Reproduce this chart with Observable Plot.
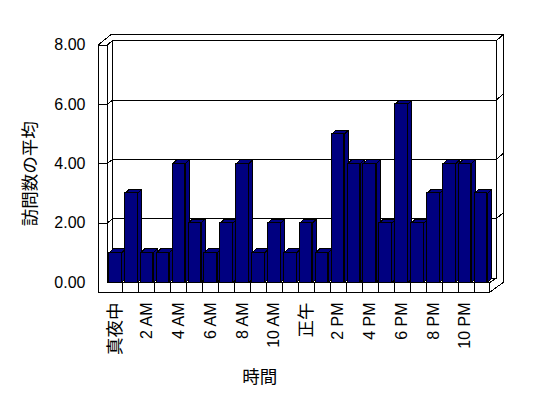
<!DOCTYPE html>
<html>
<head>
<meta charset="utf-8">
<script src="https://cdn.jsdelivr.net/npm/d3@7"></script>
<script src="https://cdn.jsdelivr.net/npm/@observablehq/plot@0.6"></script>
<style>
  html, body { margin: 0; padding: 0; background: #fff; }
  #chart { width: 548px; height: 398px; overflow: hidden; }
</style>
</head>
<body>
<div id="chart"></div>
<script>
// ---- data ----
const hours = [0,1,2,3,4,5,6,7,8,9,10,11,12,13,14,15,16,17,18,19,20,21,22,23];
const visits = [1,3,1,1,4,2,1,2,4,1,2,1,2,1,5,4,4,2,6,2,3,4,4,3];
const tickHours = [0,2,4,6,8,10,12,14,16,18,20,22];
const tickLabels = ["真夜中","2 AM","4 AM","6 AM","8 AM","10 AM","正午","2 PM","4 PM","6 PM","8 PM","10 PM"];
const yTicks = [0,2,4,6,8];
const yTitle = "訪問数の平均";
const xTitle = "時間";

// ---- layout (pixel sizes converted to scale units) ----
const W = 548, H = 398;
const mL = 108.5, mR = 57.8, mT = 44.5, mB = 116;
const pxX = (W - mL - mR) / 24;      // px per hour unit
const pxY = (H - mT - mB) / 8;       // px per value unit
const ux = p => p / pxX, uy = p => p / pxY;

const BW = ux(12.6), DX = ux(4), DY = uy(4);          // bar front width & depth
const WL = -ux(10.8), WI = -ux(1.8), OL = ux(1.8);    // left wall
const BL = ux(3.5), BR = 24 + ux(5.5), OR = 24 + ux(12.5), FR = 24 - ux(0.9);
const DYB = uy(4.3), DYR = uy(6), FB = -uy(9.7);
const yMax = yTicks[yTicks.length - 1];

const bars = hours.map((h, i) => ({h, v: visits[i]}));

// 3D faces of bars
const sides = [], tops = [];
bars.forEach(({h, v}) => {
  const x1 = h, x2 = h + BW;
  [[x2, v], [x2 + DX, v + DY], [x2 + DX, DY], [x2, 0], [x2, v]]
    .forEach(([x, y]) => sides.push({id: h, x, y}));
  [[x1, v], [x2, v], [x2 + DX, v + DY], [x1 + DX, v + DY], [x1, v]]
    .forEach(([x, y]) => tops.push({id: h, x, y}));
});

// box frame
const frame = [];
let fid = 0;
const poly = pts => { fid++; pts.forEach(([x, y]) => frame.push({id: fid, x, y})); };
poly([[WL, yMax], [WL, FB]]);
poly([[WL, yMax], [WI, yMax], [WI, 0], [BL, DYB]]);
poly([[WL, yMax], [OL, yMax + DYB + DYR], [OR, yMax + DYB + DYR], [OR, 0], [FR, FB]]);
poly([[WI, yMax], [BL, yMax + DYB], [BR, yMax + DYB], [OR, yMax + DYB + DYR]]);
poly([[BL, yMax + DYB], [BL, DYB], [BR, DYB]]);
poly([[BR, yMax + DYB], [BR, DYB], [FR, 0]]);
yTicks.filter(v => v > 0 && v < yMax).forEach(v =>
  poly([[WL, v], [WI, v], [BL, v + DYB], [BR, v + DYB], [OR, v + DYB + DYR]]));
poly([[WI, 0], [FR, 0], [FR, FB]]);
poly([[WL, FB], [FR, FB]]);
hours.slice(1).forEach((h, k) => {
  const d = h - 0.132 + k * 0.006;
  poly([[d, 0], [d, FB]]);
});

const isCJK = s => /[^\x00-\x7F]/.test(s);
const ticks = tickHours.map((h, i) => ({h, label: tickLabels[i]}));
const navy = "#000080";

const chart = Plot.plot({
  width: W, height: H,
  marginLeft: mL, marginRight: mR, marginTop: mT, marginBottom: mB,
  style: {fontFamily: "'Liberation Sans', Arial, 'Noto Sans CJK JP', sans-serif", background: "#fff", overflow: "visible"},
  x: {domain: [0, 24], axis: null},
  y: {domain: [0, yMax], axis: null},
  marks: [
    Plot.line(frame, {x: "x", y: "y", z: "id", stroke: "#000", strokeWidth: 1}),
    Plot.line(sides, {x: "x", y: "y", z: "id", fill: navy, stroke: "#000", strokeWidth: 1}),
    Plot.line(tops, {x: "x", y: "y", z: "id", fill: navy, stroke: "#000", strokeWidth: 1}),
    Plot.rect(bars, {x1: "h", x2: d => d.h + BW, y1: 0, y2: "v", fill: navy, stroke: "#000", strokeWidth: 1}),
    Plot.text(yTicks, {y: d => d, text: d => d3.format(".2f")(d), frameAnchor: "left", dx: -23.5, textAnchor: "end", lineAnchor: "middle", fontSize: 16, fill: "#000"}),
    Plot.text(ticks.filter(d => !isCJK(d.label)), {x: d => d.h + BW / 2, y: 0, dy: 20, text: "label", rotate: -90, textAnchor: "end", lineAnchor: "middle", fontSize: 16, fill: "#000"}),
    Plot.text(ticks.filter(d => isCJK(d.label)), {x: d => d.h + BW / 2, y: 0, dy: 20, text: "label", rotate: -90, textAnchor: "end", lineAnchor: "middle", fontSize: 17.5, fill: "#000"}),
    Plot.text([yTitle], {text: d => d, frameAnchor: "left", dx: -78.5, dy: 10, rotate: -90, textAnchor: "middle", lineAnchor: "middle", fontSize: 17.5, fill: "#000"}),
    Plot.text([xTitle], {text: d => d, frameAnchor: "bottom", dx: -40, dy: 94.5, textAnchor: "middle", lineAnchor: "middle", fontSize: 17.5, fill: "#000"})
  ]
});
chart.setAttribute("shape-rendering", "crispEdges");
document.getElementById("chart").appendChild(chart);
</script>
</body>
</html>
